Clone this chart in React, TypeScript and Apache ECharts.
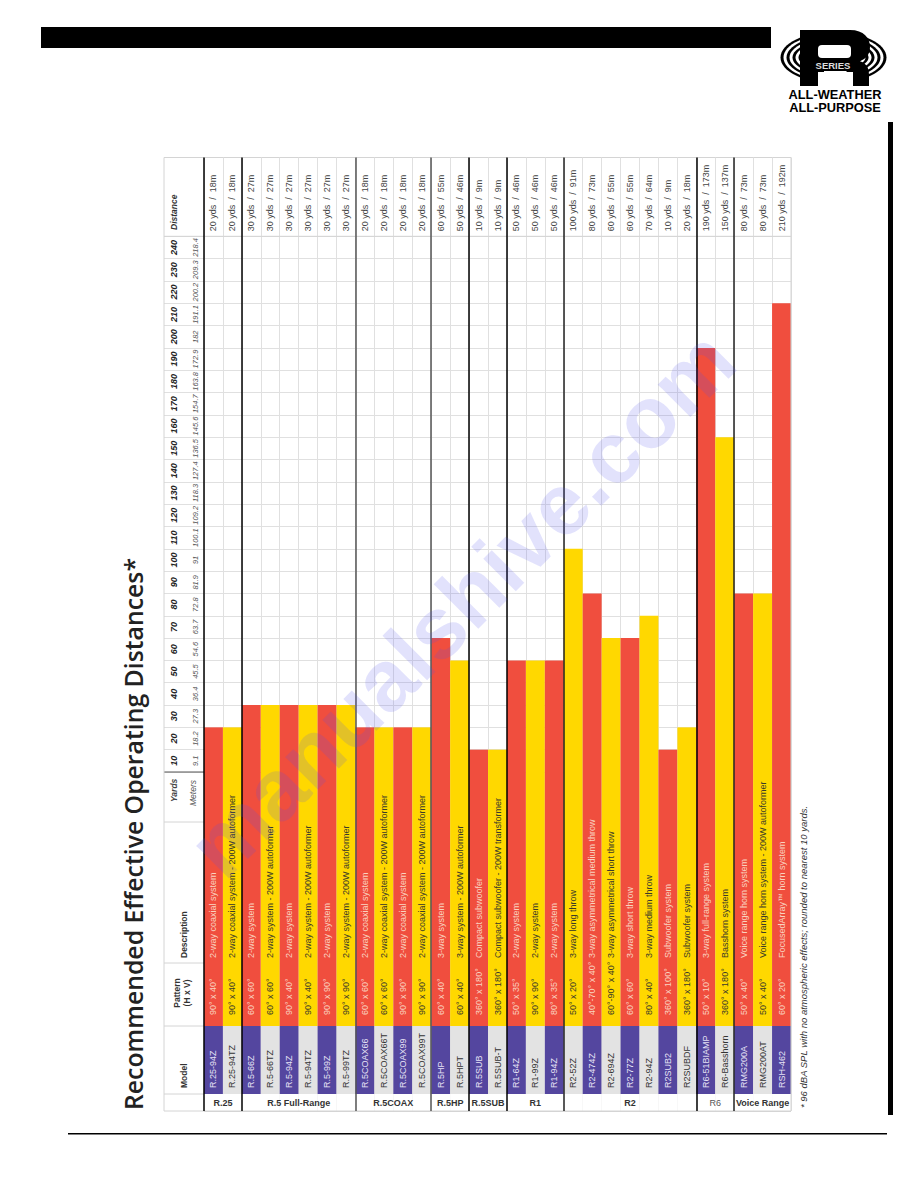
import React, { useEffect, useRef } from "react";
import * as echarts from "echarts";

const groups = ["R.25", "R.5 Full-Range", "R.5COAX", "R.5HP", "R.5SUB", "R1", "R2", "R6", "Voice Range"];
const groupSizes = [2, 6, 4, 2, 2, 3, 7, 2, 3];
const models = ["R.25-94Z", "R.25-94TZ", "R.5-66Z", "R.5-66TZ", "R.5-94Z", "R.5-94TZ", "R.5-99Z", "R.5-99TZ", "R.5COAX66", "R.5COAX66T", "R.5COAX99", "R.5COAX99T", "R.5HP", "R.5HPT", "R.5SUB", "R.5SUB-T", "R1-64Z", "R1-99Z", "R1-94Z", "R2-52Z", "R2-474Z", "R2-694Z", "R2-77Z", "R2-94Z", "R2SUB2", "R2SUBDF", "R6-51BIAMP", "R6-Basshorn", "RMG200A", "RMG200AT", "RSH-462"];
const patterns = ["90° x 40°", "90° x 40°", "60° x 60°", "60° x 60°", "90° x 40°", "90° x 40°", "90° x 90°", "90° x 90°", "60° x 60°", "60° x 60°", "90° x 90°", "90° x 90°", "60° x 40°", "60° x 40°", "360° x 180°", "360° x 180°", "50° x 35°", "90° x 90°", "80° x 35°", "50° x 20°", "40°-70° x 40°", "60°-90° x 40°", "60° x 60°", "80° x 40°", "360° x 100°", "360° x 180°", "50° x 10°", "360° x 180°", "50° x 40°", "50° x 40°", "60° x 20°"];
const descriptions = ["2-way coaxial system", "2-way coaxial system - 200W autoformer", "2-way system", "2-way system - 200W autoformer", "2-way system", "2-way system - 200W autoformer", "2-way system", "2-way system - 200W autoformer", "2-way coaxial system", "2-way coaxial system - 200W autoformer", "2-way coaxial system", "2-way coaxial system - 200W autoformer", "3-way system", "3-way system - 200W autoformer", "Compact subwoofer", "Compact subwoofer - 200W transformer", "2-way system", "2-way system", "2-way system", "3-way long throw", "3-way asymmetrical medium throw", "3-way asymmetrical short throw", "3-way short throw", "3-way medium throw", "Subwoofer system", "Subwoofer system", "3-way full-range system", "Basshorn system", "Voice range horn system", "Voice range horn system - 200W autoformer", "FocusedArray™ horn system"];
const yardsValues = [20, 20, 30, 30, 30, 30, 30, 30, 20, 20, 20, 20, 60, 50, 10, 10, 50, 50, 50, 100, 80, 60, 60, 70, 10, 20, 190, 150, 80, 80, 210];
const metresValues = [18, 18, 27, 27, 27, 27, 27, 27, 18, 18, 18, 18, 55, 46, 9, 9, 46, 46, 46, 91, 73, 55, 55, 64, 9, 18, 173, 137, 73, 73, 192];
const yardTicks = ["10", "20", "30", "40", "50", "60", "70", "80", "90", "100", "110", "120", "130", "140", "150", "160", "170", "180", "190", "200", "210", "220", "230", "240"];
const meterTicks = ["9.1", "18.2", "27.3", "36.4", "45.5", "54.6", "63.7", "72.8", "81.9", "91", "100.1", "109.2", "118.3", "127.4", "136.5", "145.6", "154.7", "163.8", "172.9", "182", "191.1", "200.2", "209.3", "218.4"];
const groupLineColors = ["#000", "#000", "#555", "#555", "#000", "#000", "#222", "#000", "#222"];

const RED = "#F04E3E";
const YELLOW = "#FFD800";
const PURPLE = "#54469F";
const GREY = "#E3E3E3";
const GRID = "#e0e0e0";
const FONT = '"Liberation Sans", Arial, sans-serif';
const LEFT = 204, RIGHT = 791, TOP = 157.5, BOTTOM = 1111, HEADER_LEFT = 164;
const AXIS_TOP = 236.3, ZERO = 772, MODEL_BOTTOM = 1094;
const DESC_BAND = 193, PATTERN_BAND = 61, MODEL_BAND = 68, GROUP_BAND = BOTTOM - MODEL_BOTTOM;
const R_PATH = "M0 0H50C64 0 70 8 70 17C70 25 65 30 59 31C66 33 69 37 69 45V56H47V44C47 40 45 38 40 38H24V56H0Z";
echarts.graphic.registerShape("rletter", echarts.graphic.extendPath(R_PATH, {}) as any);

const rotText = (text: string, x: number, y: number, font: any = {}, align = "left") => ({
  type: "text", x, y, rotation: Math.PI / 2, z: 5, silent: true,
  style: { text, align, verticalAlign: "middle", fontFamily: FONT, fontSize: 9, fill: "#333", ...font },
});
const hLine = (x1: number, x2: number, y: number, stroke = "#d4d4d4", z = 1) => ({
  type: "line", z, silent: true, shape: { x1, y1: y, x2, y2: y }, style: { stroke, lineWidth: 1 },
});
const vLine = (x: number, y1: number, y2: number, stroke = "#d4d4d4", z = 1) => ({
  type: "line", z, silent: true, shape: { x1: x, y1, x2: x, y2 }, style: { stroke, lineWidth: 1 },
});

function stripeSeries(name: string, band: number, colors: string[], textColors: string[], texts: string[] | null, dist: number) {
  return {
    name, type: "bar", xAxisIndex: 1, yAxisIndex: 1, stack: "columns", barCategoryGap: "0%", barWidth: "100%", z: 2,
    data: models.map((_, i) => ({ value: -band, itemStyle: { color: colors[i % 2] }, label: { color: textColors[i % 2] } })),
    label: {
      show: !!texts, position: "insideBottom", distance: dist, rotate: 90, align: "left", verticalAlign: "middle",
      fontFamily: FONT, fontSize: 9,
      formatter: (p: any) => (texts ? texts[p.dataIndex] : ""),
    },
  };
}

export default function App() {
  const ref = useRef<HTMLDivElement>(null);
  useEffect(() => {
    const chart = echarts.init(ref.current!, undefined, { renderer: "svg" });
    const edges = groupSizes.reduce<number[]>((a, s) => [...a, a[a.length - 1] + s], [0]);
    const centers = groupSizes.map((s, i) => edges[i] + s / 2);
    const full = { axisLine: { show: false }, axisTick: { show: false }, axisLabel: { show: false } };
    const rings = [53, 47, 41, 35, 29].flatMap((rx, i) => [
      { type: "ellipse", z: 1, silent: true, shape: { cx: 833.5, cy: 57.5, rx, ry: 25.5 - i * 4 }, style: { fill: "#000" } },
      { type: "ellipse", z: 1, silent: true, shape: { cx: 833.5, cy: 57.5, rx: rx - 3, ry: 25.5 - i * 4 - 2 }, style: { fill: "#fff" } },
    ]);

    chart.setOption({
      animation: false,
      backgroundColor: "#fff",
      grid: [
        { left: LEFT, top: AXIS_TOP, width: RIGHT - LEFT, height: ZERO - AXIS_TOP },
        { left: LEFT, top: ZERO, width: RIGHT - LEFT, height: BOTTOM - ZERO },
        { left: LEFT, top: TOP, width: RIGHT - LEFT, height: BOTTOM - TOP },
        { left: HEADER_LEFT, top: AXIS_TOP, width: LEFT - HEADER_LEFT, height: ZERO - AXIS_TOP },
      ],
      xAxis: [
        {
          gridIndex: 0, type: "category", position: "top", data: models,
          axisLine: { show: false }, axisTick: { show: false }, splitLine: { show: false },
          axisLabel: {
            interval: 0, rotate: 90, margin: 5, fontFamily: FONT, fontSize: 9, color: "#444",
            formatter: (_: string, i: number) => `${yardsValues[i]} yds  /  ${metresValues[i]}m`,
          },
        },
        { gridIndex: 1, type: "category", data: models, show: false },
        { gridIndex: 2, type: "value", min: 0, max: models.length, interval: 1, ...full, splitLine: { show: true, lineStyle: { color: GRID, width: 1 } } },
        { gridIndex: 3, type: "value", show: false },
      ],
      yAxis: [
        { gridIndex: 0, type: "value", min: 0, max: 240, interval: 10, ...full, splitLine: { show: true, lineStyle: { color: GRID, width: 1 } } },
        { gridIndex: 1, type: "value", min: -(BOTTOM - ZERO), max: 0, show: false },
        { gridIndex: 2, type: "value", min: 0, max: 1, interval: 1, ...full, splitLine: { show: true, lineStyle: { color: "#d4d4d4", width: 1 } } },
        {
          gridIndex: 3, type: "category", position: "left", data: yardTicks,
          axisLine: { show: false }, axisTick: { show: false },
          splitLine: { show: true, lineStyle: { color: GRID, width: 1 } },
          axisLabel: { interval: 0, inside: true, margin: 10, rotate: 90, align: "center", verticalAlign: "middle", fontFamily: FONT, fontSize: 9, fontWeight: "bold", fontStyle: "italic", color: "#222" },
        },
        {
          gridIndex: 3, type: "category", position: "right", data: meterTicks,
          axisLine: { show: false }, axisTick: { show: false }, splitLine: { show: false },
          axisLabel: { interval: 0, inside: true, margin: 9, rotate: 90, align: "center", verticalAlign: "middle", fontFamily: FONT, fontSize: 7.5, fontStyle: "italic", color: "#555" },
        },
      ],
      series: [
        {
          name: "Distance", type: "bar", xAxisIndex: 0, yAxisIndex: 0, barCategoryGap: "0%", barWidth: "100%", z: 2,
          data: yardsValues.map((v, i) => ({ value: v, itemStyle: { color: i % 2 === 0 ? RED : YELLOW } })),
        },
        stripeSeries("Description", DESC_BAND, [RED, YELLOW], ["#F9D3C0", "#3a3a2a"], descriptions, 7),
        stripeSeries("Pattern", PATTERN_BAND, [RED, YELLOW], ["#F9D3C0", "#3a3a2a"], patterns, 11),
        stripeSeries("Model", MODEL_BAND, [PURPLE, GREY], ["#E6E3F5", "#333"], models, 6),
        stripeSeries("Group row", GROUP_BAND, ["#fff", "#fff"], ["#fff", "#fff"], null, 0),
        {
          name: "Groups", type: "custom", coordinateSystem: "cartesian2d", xAxisIndex: 2, yAxisIndex: 2, z: 6, silent: true,
          data: centers.map((c) => [c, (BOTTOM - 1102.5) / (BOTTOM - TOP)]),
          renderItem: (params: any, api: any) => {
            const p = api.coord([api.value(0), api.value(1)]);
            const name = groups[params.dataIndex];
            return {
              type: "text", x: p[0], y: p[1],
              style: {
                text: name, align: "center", verticalAlign: "middle", fontFamily: FONT, fontSize: 9,
                fontWeight: name === "R6" ? "normal" : "bold", fill: name === "R6" ? "#555" : "#333",
              },
            };
          },
          markLine: {
            silent: true, symbol: "none", animation: false, label: { show: false },
            data: edges.slice(0, -1).map((e, i) => ({ xAxis: e, lineStyle: { color: groupLineColors[i], width: 1.5, type: "solid" } })),
          },
        },
      ],
      graphic: [
        { type: "rect", z: 1, silent: true, shape: { x: 41, y: 27, width: 730, height: 21 }, style: { fill: "#000" } },
        { type: "rect", z: 1, silent: true, shape: { x: 888, y: 122, width: 5, height: 993 }, style: { fill: "#000" } },
        { type: "rect", z: 1, silent: true, shape: { x: 68, y: 1133, width: 819, height: 1.5 }, style: { fill: "#000" } },
        ...rings,
        { type: "rletter", x: 800, y: 30, z: 2, silent: true, style: { fill: "#000" } },
        { type: "rect", z: 3, silent: true, shape: { x: 818, y: 45, width: 33, height: 13, r: 4 }, style: { fill: "#fff" } },
        { type: "rect", z: 3, silent: true, shape: { x: 818, y: 72, width: 35, height: 14 }, style: { fill: "#fff" } },
        { type: "rect", z: 3, silent: true, shape: { x: 808, y: 60, width: 52, height: 11 }, style: { fill: "#000" } },
        { type: "text", z: 4, silent: true, x: 833, y: 65.5, style: { text: "SERIES", align: "center", verticalAlign: "middle", fontFamily: FONT, fontWeight: "bold", fontSize: 9.5, fill: "#ddd" } },
        { type: "text", z: 4, silent: true, x: 835, y: 94, style: { text: "ALL-WEATHER", align: "center", verticalAlign: "middle", fontFamily: FONT, fontWeight: "bold", fontSize: 12.8, fill: "#000" } },
        { type: "text", z: 4, silent: true, x: 835, y: 107.5, style: { text: "ALL-PURPOSE", align: "center", verticalAlign: "middle", fontFamily: FONT, fontWeight: "bold", fontSize: 12.8, fill: "#000" } },

        hLine(HEADER_LEFT, LEFT, TOP), hLine(HEADER_LEFT, RIGHT, AXIS_TOP), hLine(HEADER_LEFT, LEFT, ZERO, "#555"),
        hLine(HEADER_LEFT, LEFT, 822), hLine(HEADER_LEFT, LEFT, 963), hLine(HEADER_LEFT, LEFT, 1026), hLine(HEADER_LEFT, LEFT, MODEL_BOTTOM), hLine(HEADER_LEFT, RIGHT, BOTTOM, "#d4d4d4", 3),
        vLine(HEADER_LEFT, TOP, BOTTOM), vLine(RIGHT, TOP, BOTTOM, "#d4d4d4", 3),

        rotText("Recommended Effective Operating Distances*", 133, 1110, { fontFamily: '"Open Sans", sans-serif', fontWeight: 600, fontSize: 24.8, fill: "#222" }),
        rotText("* 96 dBA SPL with no atmospheric effects; rounded to nearest 10 yards.", 803, 1108, { fontStyle: "italic", fontSize: 9.5, fill: "#333" }),
        rotText("Distance", 174, 230, { fontWeight: "bold", fontStyle: "italic", fontSize: 8.5 }),
        rotText("Yards", 174, 802, { fontStyle: "italic", fontWeight: "bold", fontSize: 8.5, fill: "#444" }),
        rotText("Meters", 193, 806, { fontStyle: "italic", fontSize: 8.5, fill: "#555" }),
        rotText("Description", 184, 958, { fontWeight: "bold", fontSize: 8.5 }),
        rotText("Pattern", 177, 993, { fontWeight: "bold", fontSize: 8.5 }, "center"),
        rotText("(H x V)", 187, 993, { fontWeight: "bold", fontSize: 8.5 }, "center"),
        rotText("Model", 184, 1088, { fontWeight: "bold", fontSize: 8.5 }),

        { type: "text", z: 100, silent: true, x: 461, y: 603, rotation: Math.PI / 4, style: { text: "manualshive.com", align: "center", verticalAlign: "middle", fontFamily: FONT, fontWeight: "bold", fontSize: 87, fill: "rgba(85,85,235,0.17)" } },
      ],
    });
    return () => chart.dispose();
  }, []);
  return <div ref={ref} style={{ position: "absolute", left: 0, top: 0, width: 918, height: 1188 }} />;
}
